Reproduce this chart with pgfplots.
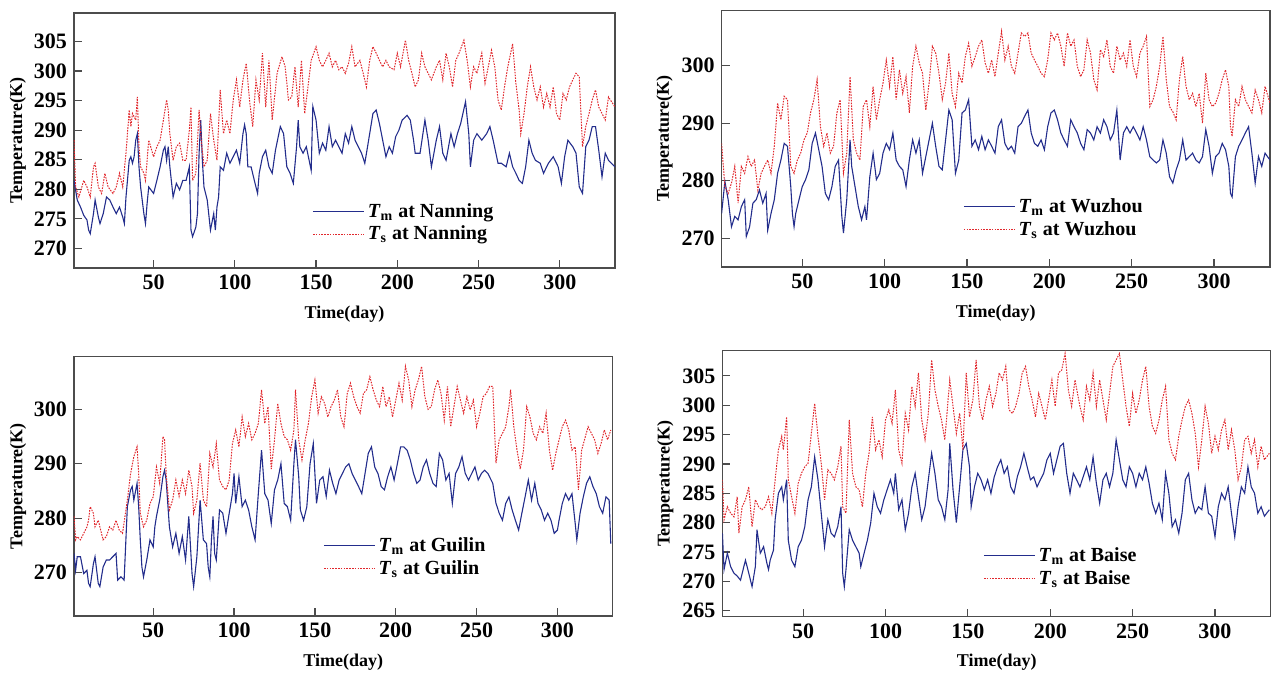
\documentclass[border=0pt]{standalone}
\usepackage{fontspec}
\setmainfont{Liberation Serif}
\usepackage{pgfplots}
\pgfplotsset{compat=1.18}

\definecolor{tmblue}{RGB}{35,45,140}
\definecolor{tsred}{RGB}{225,40,45}

\pgfplotsset{
  panel/.style={
    scale only axis, anchor=south west,
    xmin=1, xmax=334,
    xtick={50,100,...,300},
    tick align=inside, xtick pos=bottom, ytick pos=left,
    major tick length=4pt,
    axis line style={black!70, line width=0.6pt},
    tick style={black!70, line width=0.6pt},
    tick label style={font=\bfseries\fontsize{11}{12}\selectfont},
    /pgf/number format/assume math mode=true,
    label style={font=\bfseries\fontsize{9}{10}\selectfont},
    xlabel={Time(day)}, ylabel={Temperature(K)},
    xlabel style={at={(axis description cs:0.5,0)}, anchor=center, yshift=-23pt},
    ylabel style={at={(axis description cs:-0.104,0.5)}, anchor=center},
    legend cell align=left,
    legend image code/.code={\draw[#1] (0cm,0cm) -- (0.9cm,0cm);},
    legend style={draw=none, fill=none, inner sep=0pt, anchor=west,
      font=\bfseries\fontsize{10}{10}\selectfont, row sep=-1pt,
      nodes={inner xsep=1.5pt}},
  },
  tm/.style={tmblue, line width=0.55pt},
  ts/.style={tsred, line width=0.5pt, dash pattern=on 0.8pt off 0.6pt},
}

\begin{document}
\begin{tikzpicture}
\path[use as bounding box] (0,0) rectangle (635.5pt,336.5pt);

% Nanning
\begin{axis}[panel, at={(37pt,202.5pt)}, width=270.5pt, height=127.5pt,
  ymin=266.7, ymax=309.8, ytick={270,275,...,305},
  legend style={at={(0.44,0.176)}}]
\addplot[tm] coordinates {(1,281.5)(3,278.2)(5,277.0)(7,275.6)(9,274.8)(10,273.1)(11,272.5)(13,275.9)(14,278.2)(16,275.3)(17,274.2)(19,275.9)(21,278.7)(23,278.2)(25,277.0)(27,275.9)(29,277.0)(31,275.3)(32,274.2)(33,278.7)(35,284.9)(36,285.5)(37,284.4)(38,285.5)(39,288.3)(40,289.4)(41,283.8)(42,280.4)(44,275.9)(45,274.2)(46,277.6)(47,280.4)(50,279.3)(52,281.5)(54,283.8)(56,286.6)(57,287.2)(58,284.9)(59,287.2)(60,283.8)(62,278.7)(64,281.0)(66,279.9)(68,281.5)(70,281.5)(72,283.8)(73,273.1)(74,272.0)(76,273.6)(77,275.9)(78,286.1)(79,291.7)(80,284.9)(81,280.4)(83,278.2)(85,273.1)(87,275.9)(88,273.1)(89,277.0)(90,278.7)(91,283.8)(93,283.2)(95,286.1)(97,284.4)(99,285.5)(101,286.6)(103,284.4)(105,289.4)(106,290.9)(107,289.4)(108,283.8)(110,283.8)(112,281.5)(114,279.3)(115,282.7)(117,285.5)(119,286.6)(121,283.8)(123,282.7)(125,286.6)(128,290.6)(130,289.4)(132,283.8)(134,282.7)(136,281.0)(138,287.2)(139,291.7)(140,287.2)(142,286.1)(144,287.2)(147,283.2)(148,294.0)(150,291.7)(152,286.1)(154,287.8)(156,286.6)(158,290.6)(160,287.2)(162,288.3)(164,287.2)(166,286.1)(168,289.4)(170,287.8)(172,290.6)(174,288.3)(176,287.2)(178,286.1)(180,284.4)(183,289.4)(185,292.8)(187,293.4)(189,291.1)(191,288.3)(193,285.5)(195,287.2)(197,286.1)(199,288.9)(201,290.0)(203,291.7)(206,292.5)(208,291.7)(210,288.3)(211,286.1)(214,286.1)(217,291.7)(219,288.3)(221,283.8)(224,288.3)(226,290.6)(228,286.1)(230,284.9)(233,289.4)(235,287.2)(237,289.4)(239,291.1)(242,294.8)(244,289.4)(245,283.8)(247,288.3)(249,289.4)(252,288.3)(255,289.4)(257,290.6)(259,288.3)(262,284.4)(264,284.4)(267,283.8)(269,286.1)(271,283.8)(273,282.7)(275,281.5)(277,281.0)(279,283.8)(281,288.3)(283,286.1)(285,284.9)(288,284.4)(290,282.7)(293,284.4)(296,285.5)(299,283.8)(301,281.0)(303,285.5)(305,288.3)(308,287.2)(310,286.1)(312,280.4)(314,279.3)(316,287.2)(318,288.3)(320,290.6)(322,290.6)(324,286.6)(326,282.1)(328,286.1)(330,284.9)(334,283.8)};
\addlegendentry{\textit{T}\textsubscript{m} at Nanning}
\addplot[ts] coordinates {(1,288.3)(2,280.4)(4,278.7)(7,281.5)(9,280.4)(11,278.7)(13,283.8)(14,284.4)(16,280.4)(18,279.3)(20,282.7)(22,280.4)(25,279.3)(27,280.4)(29,282.7)(31,280.4)(33,286.1)(35,293.4)(36,290.6)(37,292.8)(39,291.7)(40,295.6)(41,287.2)(42,283.8)(44,282.7)(45,281.5)(47,288.3)(50,285.5)(52,287.2)(54,288.3)(56,291.7)(58,295.1)(59,293.4)(60,289.4)(62,284.9)(64,287.2)(66,287.8)(68,284.9)(70,284.9)(72,290.0)(73,293.9)(74,281.5)(76,282.7)(78,293.4)(79,289.4)(81,283.8)(83,284.9)(85,292.8)(87,288.3)(89,284.9)(91,296.8)(93,289.4)(95,291.7)(97,289.4)(99,295.1)(101,298.5)(103,293.9)(105,298.5)(107,301.3)(109,295.1)(111,290.6)(113,298.5)(115,295.1)(117,303.0)(119,293.9)(121,301.8)(123,291.7)(126,299.6)(129,302.4)(131,300.7)(133,295.1)(135,295.6)(137,300.7)(139,293.9)(141,301.8)(143,292.8)(145,297.3)(147,301.8)(150,304.1)(152,301.8)(154,300.7)(156,301.8)(158,303.0)(160,300.7)(162,301.8)(164,300.2)(166,300.7)(168,299.6)(170,301.3)(172,304.1)(174,300.7)(177,301.8)(179,299.6)(181,297.3)(183,301.8)(185,304.1)(187,303.0)(189,301.8)(191,300.7)(193,301.8)(195,300.7)(198,300.2)(200,303.0)(202,300.7)(205,305.2)(207,301.8)(209,299.6)(211,297.3)(213,298.5)(215,303.0)(217,300.7)(219,299.6)(221,298.5)(224,300.7)(226,301.8)(228,298.5)(230,303.0)(232,300.7)(234,297.3)(236,301.8)(238,303.0)(241,305.2)(243,301.8)(245,297.3)(247,300.7)(249,299.6)(252,303.0)(254,297.9)(256,300.7)(258,303.5)(260,300.7)(262,295.1)(264,293.4)(266,297.3)(268,300.7)(271,304.6)(273,297.9)(275,293.4)(276,289.4)(278,292.8)(280,297.3)(282,300.7)(284,297.3)(286,295.1)(288,297.3)(290,293.9)(292,296.2)(294,293.9)(296,297.3)(298,292.8)(300,291.7)(302,296.2)(304,295.1)(306,297.3)(308,298.5)(310,299.6)(312,299.0)(314,287.2)(316,290.6)(318,292.8)(320,295.1)(322,296.8)(324,293.9)(326,292.8)(328,291.7)(330,295.6)(334,293.9)};
\addlegendentry{\textit{T}\textsubscript{s} at Nanning}
\end{axis}

% Wuzhou
\begin{axis}[panel, at={(360.8pt,203pt)}, width=274.2pt, height=128.2pt,
  ymin=265, ymax=309.6, ytick={270,280,290,300},
  legend style={at={(0.44,0.19)}}]
\addplot[tm] coordinates {(1,274.3)(3,279.9)(5,276.7)(7,272.0)(9,273.8)(11,273.2)(13,275.5)(15,276.7)(16,270.3)(18,272.0)(20,276.1)(22,276.7)(24,278.4)(26,276.1)(28,277.8)(29,271.4)(31,274.3)(33,276.7)(35,281.3)(37,283.6)(39,286.5)(41,286.0)(43,279.0)(44,274.3)(45,272.0)(46,274.3)(48,276.7)(50,279.0)(52,280.2)(54,281.9)(56,286.5)(58,288.3)(60,285.4)(62,282.5)(64,277.8)(66,276.7)(68,279.0)(70,282.5)(72,283.6)(74,273.8)(75,270.9)(77,276.7)(79,287.1)(80,282.5)(82,279.0)(84,275.5)(86,273.2)(88,275.5)(89,273.2)(91,280.7)(93,284.8)(95,280.2)(97,281.3)(99,284.8)(101,286.5)(103,285.4)(105,288.3)(107,283.6)(109,282.5)(111,281.9)(113,279.0)(115,283.6)(117,287.1)(119,284.8)(121,287.1)(123,281.3)(125,284.2)(127,287.1)(129,290.0)(131,286.0)(133,282.5)(135,281.9)(137,287.1)(139,292.3)(141,290.6)(143,281.3)(145,283.6)(147,291.8)(149,292.3)(151,294.1)(153,286.0)(155,287.1)(157,285.4)(159,287.7)(161,285.4)(163,287.1)(165,286.0)(167,284.8)(169,289.4)(171,290.6)(173,286.5)(175,285.4)(177,286.0)(179,284.8)(181,289.4)(183,290.0)(185,291.2)(187,292.3)(189,288.3)(191,286.5)(193,286.0)(195,287.1)(197,285.4)(199,289.4)(201,291.8)(203,292.3)(205,290.6)(207,288.3)(209,287.1)(211,286.0)(213,290.6)(215,289.4)(217,288.3)(219,286.5)(221,285.4)(223,288.9)(225,288.3)(227,287.1)(229,289.4)(231,288.3)(233,290.6)(235,289.4)(237,287.1)(239,288.3)(241,292.3)(243,283.6)(245,288.3)(247,289.4)(249,288.3)(251,289.4)(253,288.3)(255,287.1)(257,289.4)(259,287.1)(261,284.2)(263,283.6)(265,283.1)(267,283.6)(269,287.1)(271,284.8)(273,280.7)(275,279.6)(277,281.9)(279,283.6)(281,287.1)(283,283.6)(285,284.2)(287,284.8)(289,283.6)(291,283.1)(293,284.2)(295,288.9)(297,286.0)(299,281.3)(301,284.2)(303,284.8)(305,286.5)(307,285.4)(309,282.5)(310,277.8)(311,277.2)(313,284.2)(315,286.0)(317,287.1)(319,288.3)(321,289.4)(323,284.8)(325,279.6)(327,284.2)(329,282.5)(331,284.8)(334,283.6)};
\addlegendentry{\textit{T}\textsubscript{m} at Wuzhou}
\addplot[ts] coordinates {(1,286.5)(3,279.0)(5,277.8)(7,279.6)(9,282.5)(11,276.1)(13,282.5)(15,281.3)(17,284.2)(19,282.5)(21,283.6)(23,278.4)(25,281.3)(27,282.5)(29,283.6)(31,281.3)(33,286.0)(35,293.5)(37,290.6)(39,294.7)(41,294.1)(43,282.5)(45,281.3)(47,283.6)(49,284.8)(51,287.1)(53,288.3)(55,291.8)(57,294.1)(59,297.6)(61,289.4)(63,286.0)(65,288.3)(67,284.8)(69,286.0)(71,291.8)(73,294.1)(75,281.3)(77,284.8)(79,298.1)(81,287.1)(83,284.8)(85,283.6)(87,292.9)(89,294.1)(91,289.4)(93,296.4)(95,290.6)(97,294.1)(99,297.0)(101,301.0)(103,296.4)(105,301.6)(107,294.1)(109,299.3)(111,295.2)(113,298.1)(115,291.8)(117,299.9)(119,303.4)(121,300.5)(123,298.7)(125,292.3)(127,297.0)(129,303.4)(131,302.2)(133,298.7)(135,294.1)(137,297.0)(139,302.2)(141,295.2)(143,292.9)(145,298.7)(147,297.0)(149,301.6)(151,303.9)(153,299.9)(155,301.6)(157,303.4)(159,304.5)(161,300.5)(163,298.7)(165,301.0)(167,298.1)(169,302.2)(171,306.0)(173,301.0)(175,303.4)(177,299.9)(179,298.7)(181,302.2)(183,305.7)(185,305.1)(187,305.7)(189,302.2)(191,301.0)(193,299.9)(195,298.7)(197,298.1)(199,301.0)(201,305.7)(203,304.5)(205,305.7)(207,303.4)(209,299.9)(211,305.7)(213,303.4)(215,304.5)(217,299.9)(219,298.1)(221,299.3)(223,304.5)(225,302.2)(227,297.6)(229,295.8)(231,302.8)(233,301.6)(235,304.5)(237,299.9)(239,298.7)(241,303.4)(243,301.0)(245,302.2)(247,299.9)(249,304.5)(251,299.9)(253,298.1)(255,302.2)(257,303.4)(259,305.1)(261,292.9)(263,294.1)(265,296.4)(267,299.9)(269,305.1)(271,297.6)(273,292.9)(275,292.0)(277,290.6)(279,297.6)(281,301.6)(283,296.4)(285,294.1)(287,295.2)(289,292.9)(291,295.2)(293,290.0)(295,298.7)(297,294.1)(299,292.9)(301,293.5)(303,295.2)(305,297.6)(307,299.3)(309,296.4)(310,289.4)(311,287.7)(313,294.1)(315,292.9)(317,296.4)(319,294.1)(321,292.9)(323,291.8)(325,295.8)(327,294.1)(329,291.8)(331,296.4)(334,293.5)};
\addlegendentry{\textit{T}\textsubscript{s} at Wuzhou}
\end{axis}

% Guilin
\begin{axis}[panel, at={(37pt,28.5pt)}, width=269.2pt, height=129.7pt,
  ymin=262, ymax=309.7, ytick={270,280,290,300},
  legend style={at={(0.4625,0.226)}}]
\addplot[tm] coordinates {(1,273.5)(2,270.4)(3,272.9)(5,272.9)(7,269.8)(9,270.4)(10,268.0)(11,267.4)(13,271.6)(14,272.9)(16,268.0)(17,267.4)(19,271.0)(21,272.3)(23,272.3)(25,272.9)(27,273.5)(28,268.6)(30,269.2)(32,268.6)(34,282.1)(36,285.2)(37,285.8)(38,283.3)(40,286.4)(41,282.1)(42,276.0)(43,271.0)(44,269.2)(46,272.3)(48,276.0)(50,274.7)(51,278.4)(52,280.3)(54,283.3)(56,287.6)(57,288.8)(58,287.0)(60,278.4)(62,274.7)(64,277.2)(66,273.5)(68,276.6)(70,272.3)(72,280.3)(74,269.8)(75,267.4)(77,272.9)(79,283.3)(81,276.0)(83,275.3)(84,271.0)(85,269.2)(86,276.0)(87,280.3)(88,273.5)(89,272.3)(91,281.5)(93,280.9)(95,277.2)(97,280.9)(99,284.5)(100,288.2)(101,282.7)(103,287.6)(105,282.1)(107,283.3)(109,281.5)(111,278.4)(113,276.0)(115,284.5)(117,292.5)(119,284.5)(121,283.3)(123,279.0)(125,285.2)(127,287.0)(129,290.0)(131,282.7)(133,282.1)(135,279.6)(137,290.0)(138,294.4)(140,287.6)(141,281.5)(143,279.6)(145,282.1)(147,290.0)(149,293.7)(151,282.7)(153,287.0)(155,287.6)(157,284.0)(159,288.8)(161,286.4)(163,284.5)(165,287.0)(167,288.2)(169,289.4)(171,290.0)(173,288.2)(175,287.0)(177,285.8)(179,284.5)(181,288.2)(183,291.9)(185,293.1)(187,289.4)(189,288.2)(191,285.8)(193,285.2)(195,287.6)(197,289.4)(199,287.0)(201,290.0)(203,293.1)(205,293.1)(207,292.5)(209,290.7)(211,288.2)(213,286.4)(215,287.0)(217,289.4)(219,290.7)(221,288.2)(223,286.4)(225,285.8)(227,291.9)(229,290.7)(231,287.0)(233,288.2)(235,282.7)(237,288.2)(239,289.4)(241,291.3)(243,288.2)(245,287.0)(247,288.2)(249,289.4)(251,287.0)(253,288.2)(255,288.8)(257,288.2)(259,287.0)(260,286.4)(262,282.7)(264,280.9)(266,279.6)(268,282.7)(270,283.9)(272,281.5)(274,279.6)(276,277.8)(278,280.9)(280,283.9)(282,287.0)(284,283.3)(286,286.4)(288,282.7)(290,281.5)(292,279.6)(294,280.9)(296,279.6)(298,277.2)(300,277.8)(301,279.6)(303,282.7)(305,284.5)(307,283.3)(309,284.5)(311,279.0)(312,276.0)(314,280.9)(316,283.9)(318,286.4)(320,287.6)(322,285.8)(324,284.5)(326,282.1)(328,280.9)(330,283.9)(332,283.3)(333,275.3)};
\addlegendentry{\textit{T}\textsubscript{m} at Guilin}
\addplot[ts] coordinates {(1,280.3)(2,276.0)(3,276.6)(5,276.0)(7,277.2)(9,278.4)(10,279.6)(11,282.1)(13,280.9)(14,278.4)(16,279.6)(17,278.4)(19,276.0)(21,276.6)(23,278.4)(25,277.8)(27,279.6)(29,277.8)(31,277.2)(34,283.3)(36,288.2)(38,291.3)(40,293.1)(41,288.2)(42,280.9)(44,278.4)(46,279.6)(48,282.7)(50,283.9)(52,289.4)(54,286.4)(56,295.0)(57,294.4)(58,288.2)(60,281.5)(62,283.3)(64,287.0)(66,284.0)(68,287.0)(70,284.5)(72,288.8)(74,285.8)(75,280.9)(77,283.3)(79,290.1)(81,283.3)(83,282.1)(85,291.9)(87,289.4)(89,293.7)(91,287.0)(93,285.8)(95,285.2)(97,287.0)(99,293.7)(101,296.2)(103,293.1)(105,298.6)(107,295.0)(109,297.4)(111,294.4)(113,295.6)(115,297.4)(117,303.6)(119,297.4)(121,300.5)(123,289.0)(125,294.4)(127,301.1)(129,297.4)(131,295.0)(133,294.4)(135,292.5)(137,296.2)(138,303.6)(140,294.4)(142,290.7)(144,294.4)(146,297.4)(148,302.3)(150,305.4)(152,299.3)(154,302.3)(156,301.1)(158,298.6)(160,300.5)(162,301.7)(164,303.6)(166,298.6)(168,296.8)(170,302.9)(172,304.8)(174,302.3)(176,300.5)(178,299.3)(180,302.9)(182,303.6)(184,306.0)(186,303.6)(188,301.7)(190,300.5)(192,304.2)(194,300.5)(196,302.3)(198,298.6)(200,301.7)(202,304.8)(204,301.7)(206,307.9)(208,305.4)(210,300.5)(212,303.6)(214,305.4)(216,307.9)(218,302.3)(220,300.0)(222,300.5)(224,303.6)(226,305.4)(228,302.9)(230,298.0)(232,304.2)(234,296.8)(236,300.5)(238,304.2)(240,301.7)(242,299.3)(244,302.3)(246,299.9)(248,301.7)(250,296.8)(252,299.3)(254,302.3)(256,302.9)(258,304.2)(260,304.2)(262,290.1)(264,294.4)(266,295.6)(268,296.8)(270,300.5)(271,303.6)(273,296.8)(275,292.5)(277,289.0)(279,292.5)(281,300.5)(283,298.6)(285,295.6)(287,294.4)(289,296.8)(291,295.6)(293,299.3)(295,292.5)(297,288.8)(299,291.9)(301,294.4)(303,296.8)(305,298.0)(307,296.2)(309,292.5)(311,293.1)(313,285.2)(315,292.5)(317,294.7)(319,296.8)(321,295.6)(323,294.4)(325,291.9)(327,293.7)(329,296.2)(331,294.4)(333,296.2)};
\addlegendentry{\textit{T}\textsubscript{s} at Guilin}
\end{axis}

% Baise
\begin{axis}[panel, at={(361.2pt,28.2pt)}, width=274.3pt, height=133pt,
  ymin=264, ymax=309.3, ytick={265,270,...,305},
  legend style={at={(0.475,0.185)}}]
\addplot[tm] coordinates {(1,278.2)(2,272.0)(4,274.8)(6,272.5)(8,271.4)(10,270.9)(12,270.2)(14,272.5)(15,273.6)(17,271.4)(19,269.1)(21,272.5)(22,278.8)(24,274.8)(26,275.9)(28,273.1)(29,272.0)(30,273.6)(32,275.3)(33,280.5)(35,285.0)(37,286.1)(38,283.9)(40,287.3)(41,277.0)(43,273.6)(45,272.5)(47,275.9)(49,277.0)(51,279.3)(53,283.9)(55,286.1)(57,291.2)(59,287.3)(61,281.6)(63,275.9)(65,280.5)(67,278.2)(69,277.6)(71,279.3)(73,282.7)(74,271.4)(75,269.1)(76,272.0)(78,278.8)(80,277.0)(82,275.9)(84,274.8)(85,272.5)(87,274.8)(89,277.0)(91,279.9)(93,285.0)(95,282.7)(97,281.6)(99,283.9)(101,285.6)(103,287.3)(105,285.0)(106,288.4)(108,282.2)(110,283.9)(112,278.8)(114,281.6)(116,286.1)(118,288.4)(120,284.4)(122,280.5)(124,282.7)(126,287.3)(128,291.8)(130,288.4)(132,283.9)(134,282.7)(136,280.5)(138,285.6)(139,293.5)(141,285.6)(143,280.0)(145,286.1)(147,292.4)(149,293.5)(151,289.5)(152,282.7)(154,286.1)(156,288.4)(158,287.3)(160,285.6)(162,287.3)(164,285.0)(166,287.8)(168,289.5)(170,290.7)(172,288.4)(174,289.5)(176,286.1)(178,285.0)(180,287.8)(182,289.5)(184,291.8)(186,289.5)(188,287.3)(190,287.8)(192,286.1)(194,287.3)(196,288.4)(198,290.7)(200,291.8)(202,288.4)(204,290.7)(206,293.0)(208,293.5)(210,288.4)(212,285.0)(214,288.4)(216,287.3)(218,286.1)(220,287.8)(222,289.5)(224,287.3)(226,291.2)(228,286.7)(230,283.3)(232,287.3)(234,288.4)(236,286.1)(238,288.4)(240,294.1)(242,290.7)(244,287.3)(246,286.1)(248,289.5)(250,288.4)(252,286.1)(254,288.4)(256,287.3)(258,289.5)(260,286.7)(262,283.3)(264,281.6)(266,283.3)(268,280.5)(270,288.4)(272,285.0)(274,279.3)(276,280.5)(278,278.2)(280,281.6)(282,287.3)(284,288.4)(286,283.9)(288,281.6)(290,282.7)(292,282.2)(294,286.1)(296,281.6)(298,281.1)(300,277.6)(302,282.7)(304,285.0)(306,283.9)(308,286.1)(310,281.6)(312,277.6)(314,282.7)(316,286.1)(318,285.0)(320,289.5)(322,286.1)(324,285.0)(326,281.6)(328,282.7)(330,281.1)(333,282.2)};
\addlegendentry{\textit{T}\textsubscript{m} at Baise}
\addplot[ts] coordinates {(1,287.3)(2,280.5)(4,282.7)(6,281.6)(8,281.0)(10,284.4)(11,278.2)(13,282.7)(15,283.9)(17,286.1)(19,279.3)(21,283.9)(23,282.7)(25,282.2)(27,282.7)(29,284.4)(31,281.6)(33,287.3)(35,292.4)(37,294.7)(38,292.4)(40,298.0)(41,287.3)(43,284.4)(45,281.6)(47,286.7)(49,288.4)(51,289.5)(53,290.1)(55,295.2)(57,300.3)(59,294.7)(61,290.1)(63,283.9)(65,289.0)(67,288.4)(69,287.3)(71,289.5)(73,293.0)(74,282.7)(76,281.6)(78,297.5)(80,288.4)(82,286.1)(84,285.6)(86,282.7)(88,288.4)(90,291.8)(92,298.0)(94,292.4)(96,294.1)(98,291.2)(100,297.5)(102,299.2)(104,296.9)(106,302.6)(108,292.4)(110,290.1)(112,298.6)(114,295.8)(116,303.2)(118,299.8)(120,305.5)(122,297.5)(124,294.1)(126,298.6)(128,307.7)(130,302.6)(132,299.8)(134,297.5)(136,294.1)(139,304.3)(141,299.8)(143,295.2)(145,298.6)(147,292.4)(149,305.5)(151,298.0)(153,300.9)(155,307.7)(157,299.8)(159,297.5)(161,300.9)(163,303.2)(165,299.8)(167,302.0)(169,305.5)(171,304.3)(173,306.6)(175,299.2)(177,298.6)(179,299.8)(181,302.0)(183,305.5)(185,306.6)(187,303.2)(189,300.9)(191,298.0)(193,302.0)(195,299.8)(197,297.5)(199,300.9)(201,304.3)(203,299.8)(205,305.5)(207,306.0)(209,308.8)(211,302.6)(213,299.8)(215,304.3)(218,299.8)(220,297.5)(222,303.2)(224,300.9)(226,305.5)(228,299.8)(230,304.3)(232,300.9)(234,297.5)(236,302.0)(238,306.6)(240,307.7)(242,308.8)(244,304.3)(246,299.8)(248,296.4)(250,302.0)(252,298.6)(254,300.9)(256,304.3)(258,306.6)(260,299.8)(262,296.4)(264,295.2)(266,297.5)(268,300.9)(270,303.2)(272,294.1)(274,291.8)(276,290.7)(278,294.7)(280,297.5)(282,299.8)(284,300.9)(286,298.6)(288,295.2)(290,289.5)(292,294.1)(294,299.8)(296,296.9)(298,291.8)(300,294.7)(302,292.4)(304,295.8)(306,297.5)(308,292.4)(310,295.8)(312,292.4)(314,287.3)(316,289.5)(318,294.1)(320,294.7)(322,291.8)(324,294.1)(326,289.5)(328,293.0)(330,290.7)(333,291.8)};
\addlegendentry{\textit{T}\textsubscript{s} at Baise}
\end{axis}
\end{tikzpicture}
\end{document}
